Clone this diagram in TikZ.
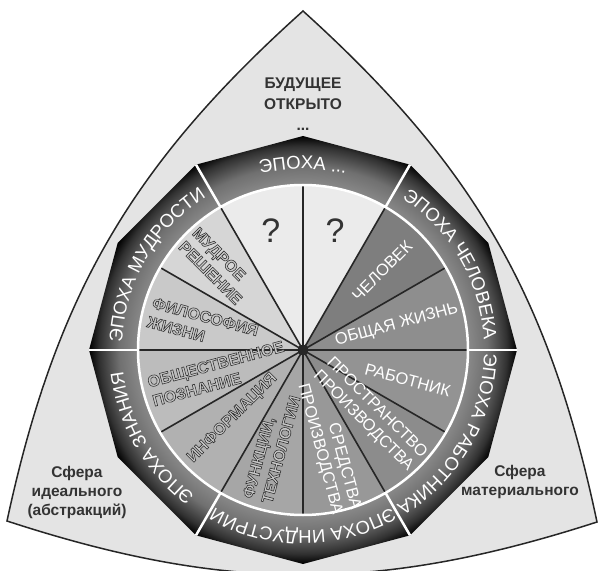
\documentclass[tikz,border=0pt]{standalone}
\usepackage{fontspec}
\setmainfont{Liberation Sans}
\newfontfamily\embfont[FakeBold=3.5]{Liberation Sans Bold}
\usepackage{xcolor}
\usetikzlibrary{decorations.text}

\definecolor{trifill}{HTML}{E4E4E4}
\definecolor{ringgray}{HTML}{8C8C8C}
\definecolor{secq}{HTML}{EBEBEB}
\definecolor{secA}{HTML}{8E8E8E}
\definecolor{secB}{HTML}{7E7E7E}
\definecolor{secC}{HTML}{D6D6D6}
\definecolor{secD}{HTML}{C9C9C9}
\definecolor{secE}{HTML}{BCBCBC}
\definecolor{secF}{HTML}{B1B1B1}
\definecolor{secG}{HTML}{A6A6A6}
\definecolor{secH}{HTML}{989898}
\definecolor{secI}{HTML}{8C8C8C}
\definecolor{secJ}{HTML}{939393}

\pgfdeclareradialshading{ringshade}{\pgfpoint{0bp}{0bp}}{color(0bp)=(ringgray); color(19bp)=(ringgray); color(21.5bp)=(ringgray!80!black); color(23.8bp)=(ringgray!35!black); color(25bp)=(black); color(50bp)=(black)}

\newcommand\emb[1]{{\embfont\special{pdf:bcolor [0.78] [0.18]}#1\special{pdf:ecolor}}}
\def\ringfont{\color{white}\fontsize{18.5}{18.5}\selectfont}

\tikzset{
  wlabel/.style={text=white, inner sep=0pt, font=\fontsize{16.5}{19}\selectfont},
  glabel/.style={inner sep=0pt, font=\fontsize{16}{19.5}\selectfont},
  qlabel/.style={text=black!80, inner sep=0pt, font=\fontsize{34}{34}\selectfont},
  sidetext/.style={text=black!80, align=center, inner sep=0pt, font=\bfseries\fontsize{15.5}{19}\selectfont},
  spoke/.style={line width=1.6pt, black!85},
  divider/.style={line width=2.5pt, white},
}

\begin{document}
\begin{tikzpicture}[x=1pt,y=1pt]
    \useasboundingbox (-303,-221) rectangle (295,350);
    \coordinate (apex) at (0,339);
    \coordinate (bleft) at (-296,-171);
    \coordinate (bright) at (294,-172);
    \draw[line width=1.5pt, black!85, fill=trifill] (apex) to[bend right=18] (bleft) to[bend right=18] (bright) to[bend right=18] (apex) -- cycle;
    \shade[shading=ringshade] (0:214) \foreach \a in {30,60,...,330} {-- (\a:214)} -- cycle;
    \foreach \a/\c in {0/secA,30/secB,60/secq,90/secq,120/secC,150/secD,180/secE,210/secF,240/secG,270/secH,300/secI,330/secJ}
        \fill[\c] (0,0) -- (\a:165) arc[start angle=\a, delta angle=30, radius=165] -- cycle;
    \foreach \a in {0,30,...,330}
        \draw[spoke] (0,0) -- (\a:165);
    \fill[black!85] (0,0) circle (5.5);
    \draw[divider] (0,0) circle (165);
    \foreach \a in {0,60,...,300}
        \draw[divider] (\a:165) -- (\a:214);
    \path[decorate, decoration={text along path, text align=center, text={|\ringfont|ЭПОХА ...}}] (120:181) arc[start angle=120, delta angle=-60, radius=181];
    \path[decorate, decoration={text along path, text align=center, text={|\ringfont|ЭПОХА ЧЕЛОВЕКА}}] (60:181) arc[start angle=60, delta angle=-60, radius=181];
    \path[decorate, decoration={text along path, text align=center, text={|\ringfont|ЭПОХА РАБОТНИКА}}] (0:181) arc[start angle=0, delta angle=-60, radius=181];
    \path[decorate, decoration={text along path, text align=center, text={|\ringfont|ЭПОХА ИНДУСТРИИ}}] (-60:181) arc[start angle=-60, delta angle=-60, radius=181];
    \path[decorate, decoration={text along path, text align=center, text={|\ringfont|ЭПОХА ЗНАНИЯ}}] (240:181) arc[start angle=240, delta angle=-60, radius=181];
    \path[decorate, decoration={text along path, text align=center, text={|\ringfont|ЭПОХА МУДРОСТИ}}] (180:181) arc[start angle=180, delta angle=-60, radius=181];
    \node[qlabel] (q1) at (105:124) {?};
    \node[qlabel] (q2) at (75:124) {?};
    \node[wlabel, rotate=45] (chel) at (45:112) {ЧЕЛОВЕК};
    \node[wlabel, rotate=15] (obzh) at (15:97) {ОБЩАЯ ЖИЗНЬ};
    \node[wlabel, rotate=-15] (rab) at (-16:109) {РАБОТНИК};
    \node[wlabel, rotate=-45, align=center] (prost) at (-44:93) {ПРОСТРАНСТВО\\ПРОИЗВОДСТВА};
    \node[wlabel, rotate=-75, align=right] (sred) at (-75:100) {СРЕДСТВА\\ПРОИЗВОДСТВА};
    \node[glabel, rotate=75, align=left] (func) at (252:102) {\emb{ФУНКЦИИ,}\\\emb{ТЕХНОЛОГИИ}};
    \node[glabel, rotate=45] (inf) at (224:98) {\emb{ИНФОРМАЦИЯ}};
    \node[glabel, rotate=15, align=left] (obpo) at (195.5:88) {\emb{ОБЩЕСТВЕННОЕ}\\\emb{ПОЗНАНИЕ}};
    \node[glabel, rotate=-15, align=left] (filo) at (166.6:103) {\emb{ФИЛОСОФИЯ}\\\emb{ЖИЗНИ}};
    \node[glabel, rotate=-45, align=left] (mudr) at (135.5:120) {\emb{МУДРОЕ}\\\emb{РЕШЕНИЕ}};
    \node[sidetext, font=\bfseries\fontsize{15.5}{21}\selectfont] (future) at (0,246) {БУДУЩЕЕ\\ОТКРЫТО\\...};
    \node[sidetext] (ideal) at (-226,-142) {Сфера\\идеального\\(абстракций)};
    \node[sidetext] (mater) at (217,-132) {Сфера\\материального};
\end{tikzpicture}
\end{document}
